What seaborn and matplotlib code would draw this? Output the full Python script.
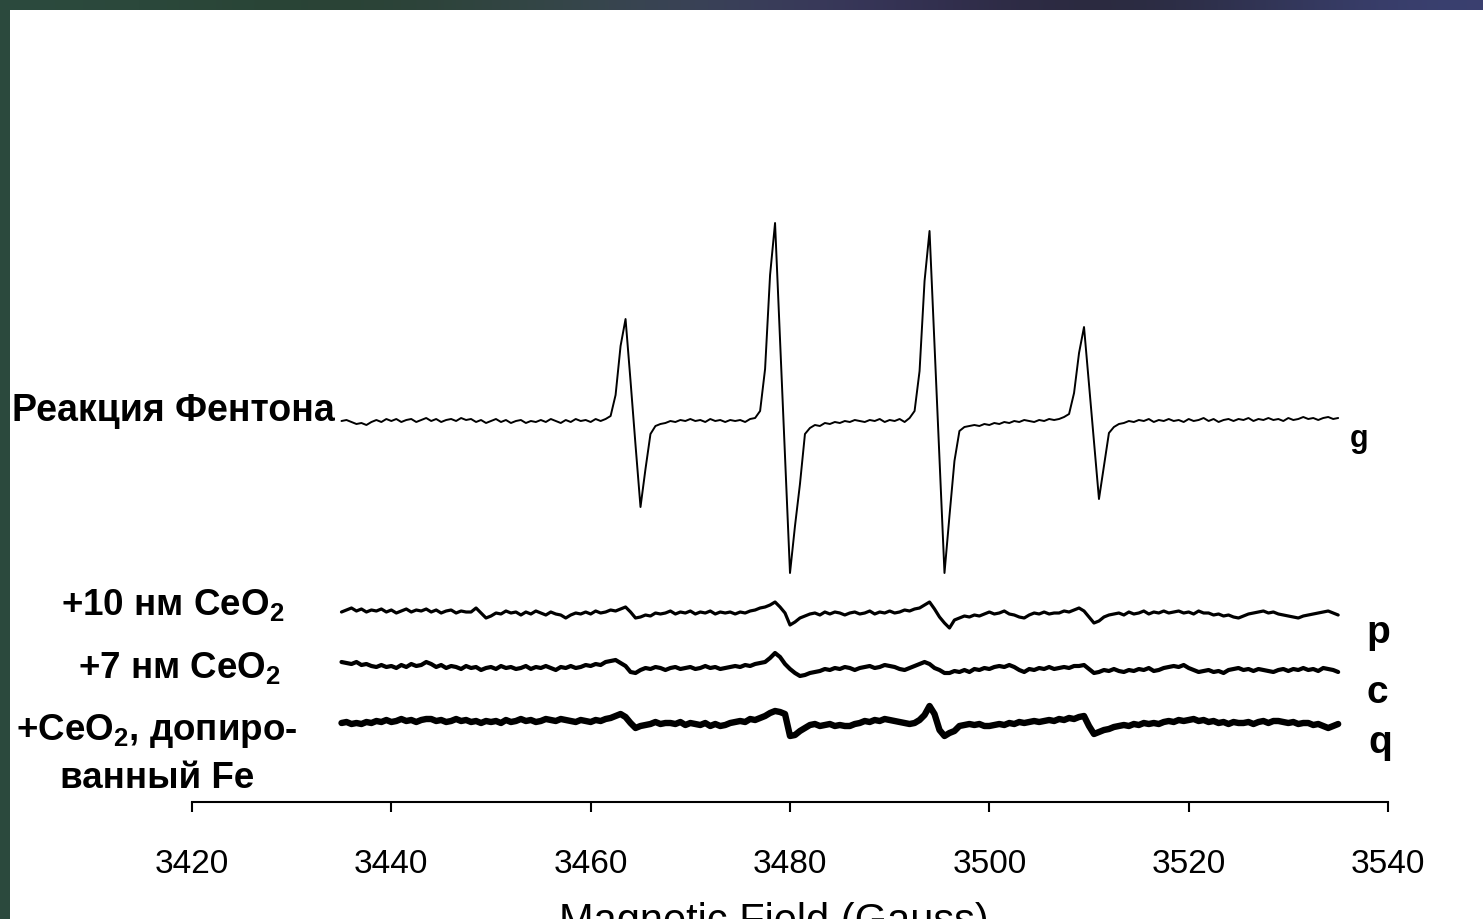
import numpy as np
import matplotlib.pyplot as plt
import matplotlib.colors as mcolors
from matplotlib.patches import Rectangle
import seaborn as sns

# EPR spectra, DMPO-OH adduct; field sampled every 0.5 G from 3435 G
field_start = 3435.0
field_step = 0.5

g_signal = [
    0, 1, -1, -3, -2, -4, -1, 1, -1, 2,
    0, 2, -1, 1, 2, -1, 1, 3, 0, 2,
    -1, 1, 2, 0, 3, 1, 2, -1, 1, -2,
    0, 2, -1, 1, -2, 0, 1, -2, 0, -1,
    1, -1, 2, 0, -2, 1, -1, 2, 0, 1,
    -1, 2, 0, 2, 5, 26, 75, 102, 40, -24,
    -86, -48, -13, -5, -3, -2, 0, -1, 1, 0,
    2, 0, 1, -1, 2, 0, 1, -1, 1, 0,
    1, -1, 2, 3, 10, 52, 146, 198, 81, -35,
    -152, -105, -63, -13, -7, -4, -5, -2, -3, -1,
    -2, 0, -1, 1, 0, -1, 1, 0, 2, -1,
    1, 0, 2, -1, 3, 10, 50, 140, 190, 76,
    -38, -152, -95, -40, -10, -6, -5, -4, -5, -3,
    -4, -2, -3, -1, -2, 0, -1, 1, 0, -1,
    1, 0, 2, 1, 2, 4, 7, 28, 68, 94,
    37, -21, -78, -45, -12, -6, -3, -2, 0, -1,
    1, 0, 2, -1, 1, 0, 2, 0, 1, -1,
    2, 0, 1, 3, 0, 2, -1, 1, 2, 0,
    2, 1, 3, 0, 2, 1, 3, 1, 2, 0,
    3, 1, 2, 4, 2, 3, 1, 3, 4, 2,
    3,
]

p_signal = [
    1, 3, 5, 2, 4, 1, 3, 2, 4, 1,
    3, 0, 2, 4, 1, 3, 2, 4, 1, 3,
    0, 2, 3, 0, 2, 1, 1, 5, 0, -5,
    -3, 0, -1, 2, 0, 1, -2, 1, -1, 2,
    0, -2, 1, -1, -2, -5, -2, 0, -1, 1,
    -1, 2, 0, 1, 3, 2, 4, 6, 1, -5,
    -4, -2, -3, 0, -1, 0, 2, -1, 1, 0,
    2, -1, 1, 0, 2, -1, 1, 0, 1, -1,
    1, 0, 2, 3, 5, 6, 8, 11, 6, 0,
    -12, -9, -5, -3, -1, 0, -2, 1, -1, 1,
    0, -2, 0, 1, -1, 0, 2, -1, 1, 0,
    2, 0, 1, 3, 2, 4, 5, 8, 11, 4,
    -4, -10, -15, -7, -5, -3, -4, -2, -3, -1,
    1, -1, 0, 2, -1, -2, -4, -5, -2, 0,
    -1, 1, -1, 0, 0, 2, 1, 3, 5, 2,
    -4, -10, -8, -4, -2, -1, 0, -2, 1, -1,
    0, 2, -1, 1, 0, 2, 0, 1, 2, 0,
    1, -1, 2, 0, 0, -2, -1, -3, -2, -4,
    -5, -3, -1, 0, 1, 2, 0, 1, -1, -2,
    -3, -4, -5, -3, -2, -1, 0, 1, 2, 0,
    -2,
]

c_signal = [
    5, 4, 3, 5, 2, 3, 1, 0, 2, 0,
    1, -1, 2, 0, 3, 1, 2, 5, 3, 0,
    2, -1, 1, 0, -2, 1, -1, 0, -3, -1,
    0, -2, 1, -1, 0, -2, -1, 1, -2, 0,
    -1, 1, -1, -3, 0, -1, 1, -1, 0, 2,
    1, 3, 2, 5, 6, 7, 4, 1, -5, -6,
    -3, -1, -2, 0, -1, -3, -1, 0, -2, -1,
    0, -2, -1, 1, -1, 0, -2, -1, 0, 1,
    0, 2, 1, 3, 4, 5, 9, 14, 10, 3,
    -2, -6, -9, -8, -6, -5, -4, -2, -3, -1,
    -2, 0, -1, -3, -1, 0, 1, -1, 0, 2,
    1, 0, -2, -3, -1, 1, 3, 5, 3, -1,
    -3, -6, -6, -4, -5, -3, -5, -2, -3, -1,
    -2, 0, 1, 0, 2, 0, -3, -5, -2, -3,
    -1, -2, 0, -2, -1, 0, -1, 1, 1, 2,
    -2, -6, -5, -3, -4, -2, -4, -5, -3, -4,
    -2, -3, -1, -4, -3, -1, 0, 1, 0, 2,
    -1, -3, -5, -4, -3, -5, -4, -6, -3, -2,
    -1, -3, -2, -4, -2, -3, -4, -5, -3, -2,
    -4, -2, -3, -1, -3, -2, -4, -1, -2, -3,
    -5,
]

q_signal = [
    0, 1, -1, 0, -1, 1, 0, 2, 1, 3,
    1, 2, 4, 2, 3, 1, 3, 4, 4, 2,
    3, 1, 2, 4, 2, 3, 1, 2, 0, 2,
    1, 2, 0, 3, 1, 2, 4, 2, 3, 1,
    2, 4, 3, 2, 4, 3, 2, 1, 3, 2,
    1, 3, 2, 4, 5, 7, 9, 6, 0, -5,
    -3, -2, -1, 1, -1, 0, 0, -1, 1, -2,
    0, -1, -2, 0, -3, -1, -3, -2, 0, 1,
    2, 1, 4, 3, 5, 7, 10, 12, 11, 9,
    -13, -12, -8, -5, -2, -1, -3, -2, -1, -3,
    -2, -3, -3, -1, 0, 2, 1, 3, 2, 4,
    3, 2, 1, 0, -1, 0, 3, 8, 17, 9,
    -7, -13, -10, -8, -3, -2, -1, -2, -1, -3,
    -3, -2, -1, -2, 0, -1, 1, 0, 1, 2,
    1, 2, 3, 2, 4, 3, 5, 4, 6, 7,
    -3, -11, -9, -7, -6, -4, -3, -2, -3, -1,
    -2, 0, -1, 0, -1, 1, 2, 1, 3, 2,
    3, 4, 2, 3, 1, 2, 0, 1, -1, 1,
    0, 0, 1, -1, 1, 2, 0, 2, 2, 1,
    0, 1, -1, 0, 0, -2, -1, -3, -5, -3,
    -1,
]

trace_letters = ['g', 'p', 'c', 'q']
field_ticks = [3420, 3440, 3460, 3480, 3500, 3520, 3540]

W, H = 1483, 919


def fx(x):
    return x / W


def fy(y):
    return 1 - y / H


sns.set_style('ticks')
plt.rcParams['font.family'] = ['Liberation Sans', 'DejaVu Sans']
plt.rcParams['text.color'] = 'black'
plt.rcParams['xtick.color'] = 'black'
plt.rcParams['axes.edgecolor'] = 'black'
plt.rcParams['mathtext.fontset'] = 'custom'
plt.rcParams['mathtext.rm'] = 'Liberation Sans:bold'
plt.rcParams['mathtext.it'] = 'Liberation Sans:bold'
plt.rcParams['mathtext.bf'] = 'Liberation Sans:bold'

fig = plt.figure(figsize=(W / 100, H / 100), dpi=100)

# dark photo-like frame behind the white slide
bg = fig.add_axes([0, 0, 1, 1], zorder=-10)
frame_cols = ['#2c4a3e', '#27402f', '#3b4a52', '#3a3563', '#24232c', '#3b4172']
grad = np.array([[mcolors.to_rgb(c) for c in frame_cols]])
bg.imshow(grad, aspect='auto', interpolation='bicubic', extent=[0, 1, 0, 1])
bg.axis('off')
fig.add_artist(Rectangle((fx(10), 0), 1 - fx(10), fy(10), transform=fig.transFigure,
                         facecolor='white', edgecolor='none', zorder=-5))

ax = fig.add_axes([fx(192), fy(802), fx(1388) - fx(192), fy(10) - fy(802)])
ax.patch.set_visible(False)

field = field_start + field_step * np.arange(len(g_signal))
signals = [g_signal, p_signal, c_signal, q_signal]
offsets = [381, 189, 135, 79]
widths = [1.4, 2.3, 3.0, 4.6]
for sig, off, lw in zip(signals, offsets, widths):
    sns.lineplot(x=field, y=np.array(sig) + off, ax=ax, color='black',
                 linewidth=lw, sort=False, estimator=None)

ax.set_xlim(3420, 3540)
ax.set_ylim(0, 792)
ax.set_xticks(field_ticks)
ax.set_xticklabels([str(t) for t in field_ticks])
ax.set_yticks([])
ax.set_xlabel('')
ax.set_ylabel('')
sns.despine(ax=ax, left=True)
ax.spines['bottom'].set_linewidth(1.5)
ax.tick_params(axis='x', direction='out', length=7.5, width=1.5, pad=26,
               labelsize=24, colors='black')

fig.text(fx(774), fy(902), 'Magnetic Field (Gauss)', fontsize=30,
         ha='center', va='top')

# sample names on the left
fig.text(fx(12), fy(421), 'Реакция Фентона', fontsize=27, fontweight='bold',
         ha='left', va='baseline')
fig.text(fx(173), fy(615), '+10 нм CeO$_2$', fontsize=26.5, fontweight='bold',
         ha='center', va='baseline')
fig.text(fx(179), fy(678), '+7 нм CeO$_2$', fontsize=26.5, fontweight='bold',
         ha='center', va='baseline')
fig.text(fx(157), fy(740), '+CeO$_2$, допиро-', fontsize=26.5, fontweight='bold',
         ha='center', va='baseline')
fig.text(fx(157), fy(788), 'ванный Fe', fontsize=26.5, fontweight='bold',
         ha='center', va='baseline')

# trace letters on the right
letter_pos = [(1359, 447, 22), (1378, 643, 28), (1377, 703, 28), (1380, 753, 28)]
for letter, (x, y, fs) in zip(trace_letters, letter_pos):
    fig.text(fx(x), fy(y), letter, fontsize=fs, fontweight='bold',
             ha='center', va='baseline')

fig.savefig('out.png', dpi=100)
